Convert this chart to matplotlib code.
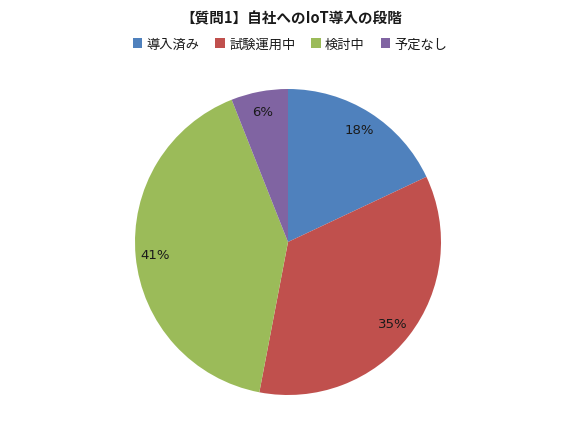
import matplotlib
matplotlib.use("Agg")
import matplotlib.pyplot as plt
from matplotlib.patches import Patch

plt.rcParams['font.family'] = ['Noto Sans CJK JP', 'DejaVu Sans']

title = "【質問1】自社へのIoT導入の段階"
categories = ["導入済み", "試験運用中", "検討中", "予定なし"]
values = [18, 35, 41, 6]
colors = ["#4F81BD", "#C0504D", "#9BBB59", "#8064A2"]

W, H = 580, 435
fig = plt.figure(figsize=(W / 100, H / 100), dpi=100)
fig.patch.set_facecolor("white")

cx, cy, r = 288, 243, 153
ax = fig.add_axes([(cx - r) / W, (H - cy - r) / H, 2 * r / W, 2 * r / H])
wedges, texts = ax.pie(values, colors=colors, startangle=90, counterclock=False,
                       labels=[f"{v}%" for v in values], labeldistance=0.87,
                       wedgeprops=dict(linewidth=0),
                       textprops=dict(fontsize=9.5, color="#1a1a1a",
                                      family=["DejaVu Sans"]))
for t in texts:
    t.set_horizontalalignment("center")
    t.set_verticalalignment("center")
ax.set_xlim(-1, 1)
ax.set_ylim(-1, 1)
ax.set_aspect("equal")

fig.text(291 / W, 1 - 18 / H, title, ha="center", va="center",
         fontsize=10.5, fontweight="bold", color="#1a1a1a")

handles = [Patch(facecolor=c, edgecolor="none") for c in colors]
fig.legend(handles, categories, loc="center", bbox_to_anchor=(290 / W, 1 - 45 / H),
           ncol=4, frameon=False, fontsize=9.5, handlelength=0.75, handleheight=0.75,
           handletextpad=0.3, columnspacing=1.2, labelcolor="#1a1a1a")

fig.savefig("out.png", dpi=100, facecolor="white")
